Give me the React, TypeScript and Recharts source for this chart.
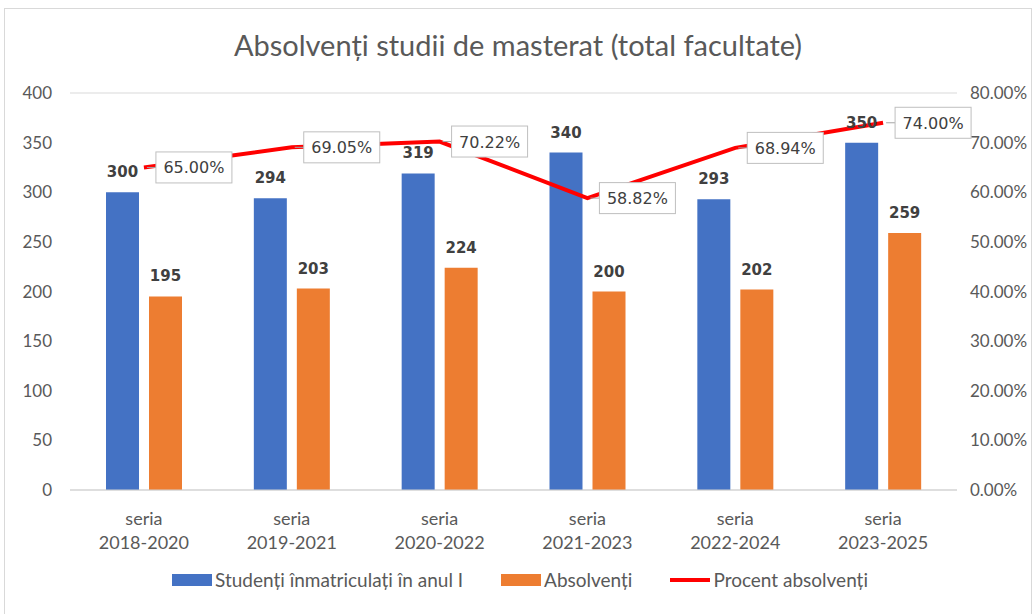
import { ComposedChart, Bar, Line, XAxis, YAxis, CartesianGrid, LabelList, Legend } from "recharts";

const series = ["2018-2020", "2019-2021", "2020-2022", "2021-2023", "2022-2024", "2023-2025"];
const enrolled = [300, 294, 319, 340, 293, 350];
const graduates = [195, 203, 224, 200, 202, 259];
const percent = [65.0, 69.05, 70.22, 58.82, 68.94, 74.0];
const leftTicks = [0, 50, 100, 150, 200, 250, 300, 350, 400];
const rightTicks = [0, 10, 20, 30, 40, 50, 60, 70, 80];

const data = series.map((s, i) => ({
  name: s,
  enrolled: enrolled[i],
  graduates: graduates[i],
  percent: percent[i],
}));

const BLUE = "#4472C4";
const ORANGE = "#ED7D31";
const RED = "#FF0000";
const TEXT = "#595959";
const FONT = "Lato, 'Open Sans', sans-serif";
const tickStyle = { fill: TEXT, fontSize: 17, fontFamily: FONT };

const legendItems = [
  { label: "Studenți înmatriculați în anul I", color: BLUE, kind: "box" },
  { label: "Absolvenți", color: ORANGE, kind: "box" },
  { label: "Procent absolvenți", color: RED, kind: "line" },
];

function SeriesTick({ x, y, payload }: any) {
  return (
    <text x={x} y={y} textAnchor="middle" fill={TEXT} fontSize={18} fontFamily={FONT}>
      <tspan x={x} dy={27}>seria</tspan>
      <tspan x={x} dy={24}>{payload.value}</tspan>
    </text>
  );
}

function PercentLabel({ x, y, value }: any) {
  const bx = x + 12;
  return (
    <g>
      <line x1={x + 3} y1={y} x2={bx} y2={y} stroke="#a6a6a6" strokeWidth={1} />
      <rect x={bx} y={y - 15.5} width={76} height={31} fill="#fff" stroke="#bfbfbf" strokeWidth={1} />
      <text x={bx + 38} y={y + 6} textAnchor="middle" fill="#404040" fontSize={16} fontFamily="'DejaVu Sans', sans-serif">
        {Number(value).toFixed(2)}%
      </text>
    </g>
  );
}

function renderLegend() {
  return (
    <div style={{ display: "flex", justifyContent: "center", gap: 38, fontFamily: FONT, fontSize: 19, color: TEXT, paddingLeft: 4 }}>
      {legendItems.map((it) => (
        <div key={it.label} style={{ display: "flex", alignItems: "center", gap: 3 }}>
          {it.kind === "box" ? (
            <span style={{ display: "inline-block", width: 40, height: 12, background: it.color }} />
          ) : (
            <span style={{ display: "inline-block", width: 40, height: 4, background: it.color }} />
          )}
          <span>{it.label}</span>
        </div>
      ))}
    </div>
  );
}

export default function App() {
  return (
    <div style={{ position: "absolute", left: 0, top: 0, width: 1036, height: 614, background: "#fff" }}>
      <div style={{ position: "absolute", left: 4, top: 8, width: 1028, height: 620, border: "1px solid #d9d9d9", boxSizing: "border-box" }} />
      <div style={{ position: "absolute", left: 0, top: 27, width: 1036, textAlign: "center", fontFamily: FONT, fontSize: 29, color: TEXT }}>
        Absolvenți studii de masterat (total facultate)
      </div>
      <div style={{ position: "absolute", left: 0, top: 0 }}>
        <ComposedChart width={1036} height={614} data={data} margin={{ top: 93, right: 0, bottom: 64, left: 0 }} barSize={33} barGap={10}>
          <CartesianGrid vertical={false} stroke="#d9d9d9" />
          <XAxis dataKey="name" tick={<SeriesTick />} tickLine={false} axisLine={{ stroke: "#d0d0d0" }} height={60} interval={0} />
          <YAxis yAxisId="left" domain={[0, 400]} ticks={leftTicks} tick={tickStyle} axisLine={false} tickLine={false} tickSize={0} tickMargin={18} width={70} />
          <YAxis yAxisId="right" orientation="right" domain={[0, 80]} ticks={rightTicks} tick={tickStyle} axisLine={false} tickLine={false} tickSize={0} tickMargin={13} width={79} tickFormatter={(v) => `${v.toFixed(2)}%`} />
          <Legend layout="horizontal" verticalAlign="middle" align="center" wrapperStyle={{ top: 568, left: 0, width: 1036 }} content={renderLegend} />
          <Bar yAxisId="left" dataKey="enrolled" name="Studenți înmatriculați în anul I" fill={BLUE} isAnimationActive={false}>
            <LabelList dataKey="enrolled" position="top" offset={15} fill="#404040" fontSize={15} fontWeight="bold" fontFamily="'DejaVu Sans', sans-serif" />
          </Bar>
          <Bar yAxisId="left" dataKey="graduates" name="Absolvenți" fill={ORANGE} isAnimationActive={false}>
            <LabelList dataKey="graduates" position="top" offset={15} fill="#404040" fontSize={15} fontWeight="bold" fontFamily="'DejaVu Sans', sans-serif" />
          </Bar>
          <Line yAxisId="right" type="linear" dataKey="percent" name="Procent absolvenți" stroke={RED} strokeWidth={4} dot={false} activeDot={false} isAnimationActive={false}>
            <LabelList dataKey="percent" content={<PercentLabel />} />
          </Line>
        </ComposedChart>
      </div>
    </div>
  );
}
